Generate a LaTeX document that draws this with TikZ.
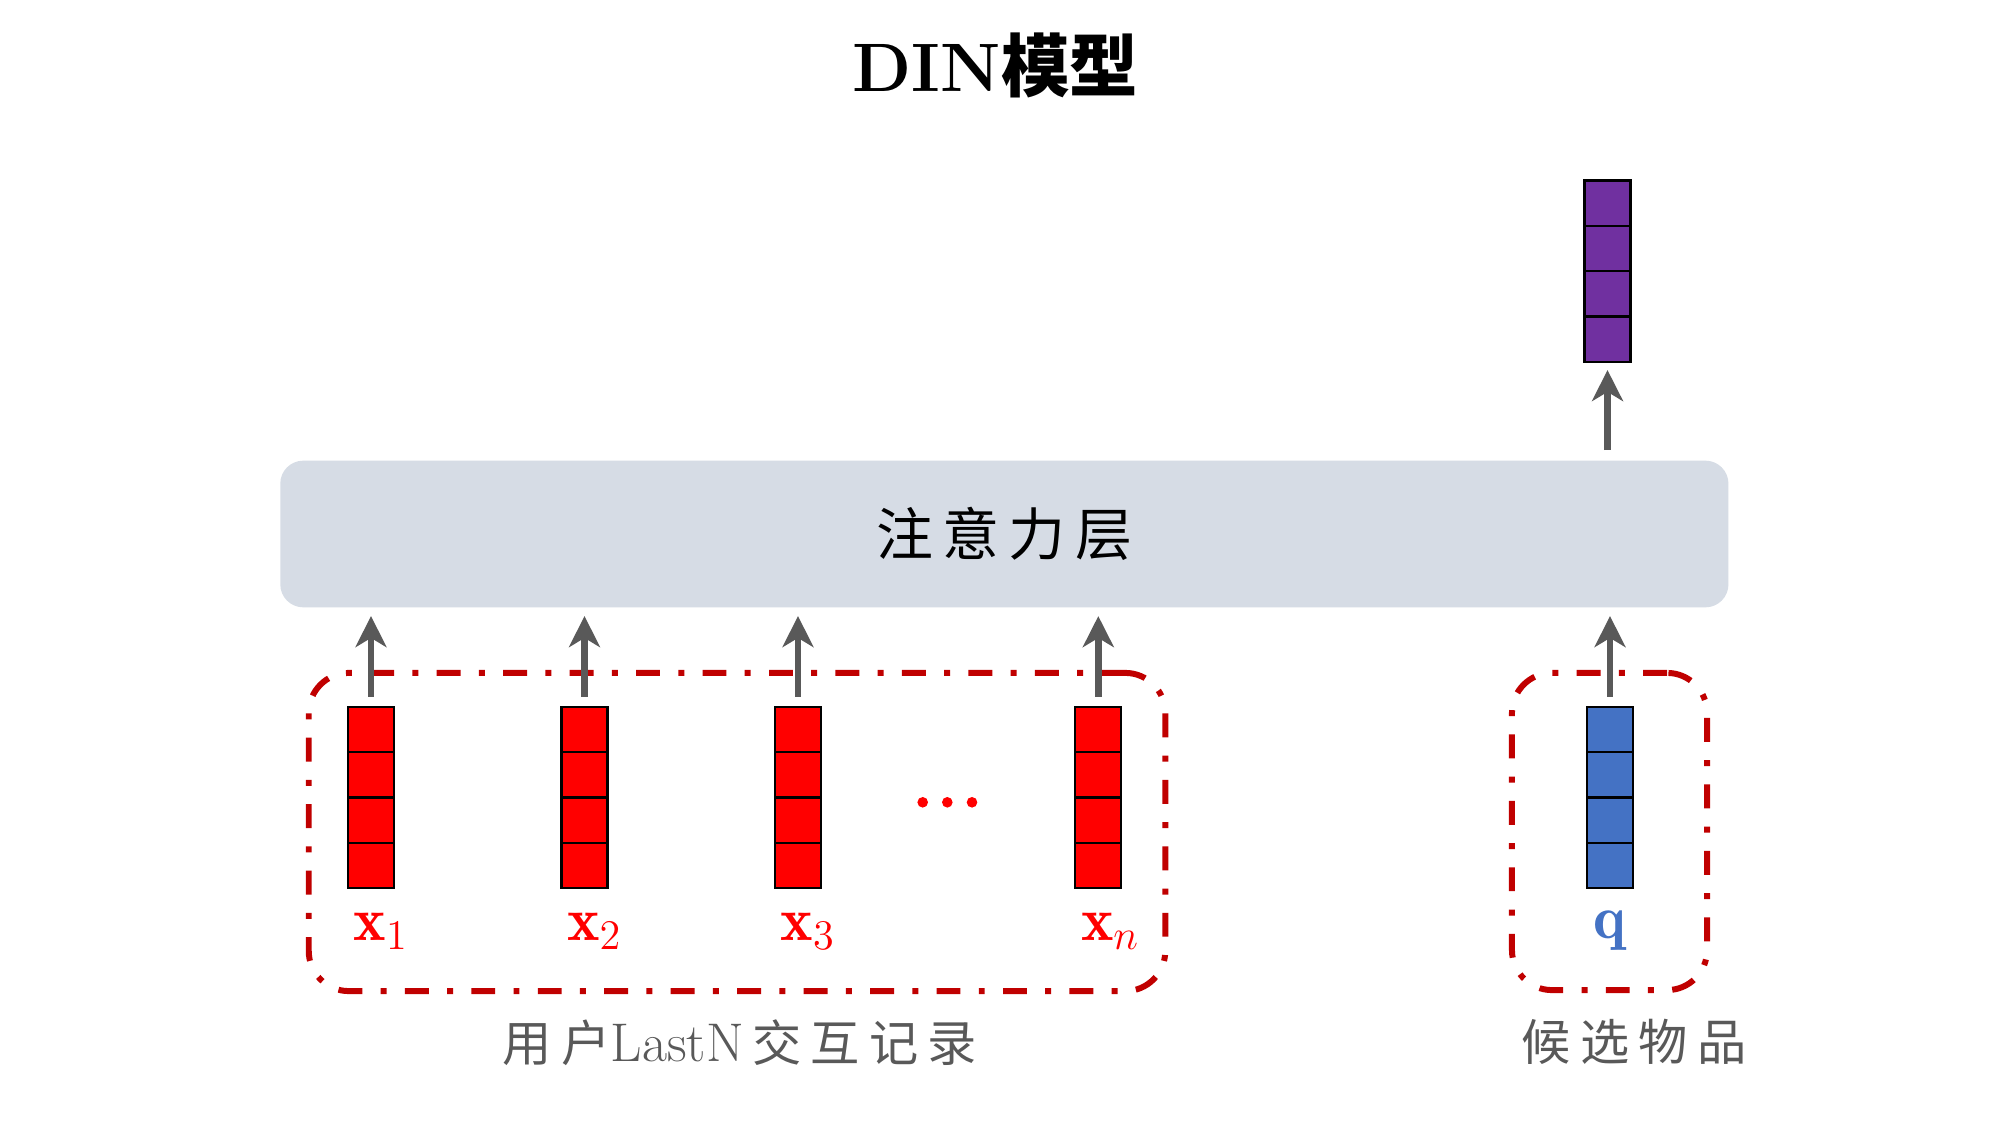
\documentclass[tikz,border=0pt]{standalone}
\usepackage{fontspec}
\newfontfamily\cjk{Noto Sans CJK SC}
\newfontfamily\cjkA{Noto Sans CJK SC}[LetterSpace=16]
\newfontfamily\cjkB{Noto Sans CJK SC}[LetterSpace=19]
\usetikzlibrary{arrows.meta,calc,backgrounds}
\definecolor{attfill}{HTML}{D6DCE5}
\definecolor{arrgray}{HTML}{595959}
\definecolor{dred}{HTML}{C00000}
\definecolor{vred}{HTML}{FF0000}
\definecolor{vpurple}{HTML}{7030A0}
\definecolor{vblue}{HTML}{4472C4}
\definecolor{txtgray}{HTML}{595959}
\newcommand\vcells[1]{%
  \foreach \k in {1,2,3}{%
    \draw[line width=0.65pt] ($(#1.north west)!\k/4!(#1.south west)$) -- ($(#1.north east)!\k/4!(#1.south east)$);
  }%
  \begin{scope}[on background layer]
    \foreach \g in {0,1.5,3,4.5}{%
      \fill[black,opacity=0.15] ($(#1.north west)+({8-\g},{7-\g})$) rectangle ($(#1.south east)+({8+\g},{7+\g})$);
    }%
  \end{scope}%
}
\begin{document}
\begin{tikzpicture}[x=0.01cm,y=-0.01cm,
  vecbox/.style={draw=black, line width=0.65pt, minimum width=0.46cm, minimum height=1.815cm, inner sep=0pt, outer sep=0pt},
  arr/.style={draw=arrgray, line width=1.85pt, -{Stealth[length=8.8pt,width=8.8pt,inset=2.6pt]}, shorten <=2.8pt, shorten >=2.3pt},
  grp/.style={draw=dred, line width=1.7pt, rounded corners=0.4cm, dash pattern=on 6.8pt off 5.2pt on 1.7pt off 5.2pt, inner sep=0pt, outer sep=0pt},
  xlab/.style={text=vred, anchor=base west, inner sep=0pt, font=\fontsize{17.5pt}{20pt}\selectfont},
  botlab/.style={text=txtgray, inner sep=0pt, font=\fontsize{14pt}{16pt}\selectfont}
]
\fill[white] (0,0) rectangle (2000,1125);
\useasboundingbox (0,0) rectangle (2000,1125);

% title
\node[anchor=base, inner sep=0pt] (title) at (995.5,92) {\fontsize{19.5pt}{22pt}\selectfont\bfseries DIN{\cjk 模型}};

% attention layer
\node[fill=attfill, rounded corners=0.23cm, minimum width=14.473cm, minimum height=1.466cm, inner sep=0pt] (att) at (1004.35,534) {\fontsize{16.2pt}{18pt}\selectfont\cjkA 注意力层};

% dashed groups
\node[grp, minimum width=8.56cm, minimum height=3.18cm] (hist) at (737,832) {};
\node[grp, minimum width=1.95cm, minimum height=3.17cm] (cand) at (1609.5,831.5) {};

% vectors
\node[vecbox, fill=vred] (v1) at (371,797.5) {};
\node[vecbox, fill=vred] (v2) at (584.5,797.5) {};
\node[vecbox, fill=vred] (v3) at (798,797.5) {};
\node[vecbox, fill=vred] (vn) at (1098.3,797.5) {};
\node[vecbox, fill=vblue] (vq) at (1610,797.5) {};
\node[vecbox, fill=vpurple] (vo) at (1607.5,271.2) {};
\vcells{v1}\vcells{v2}\vcells{v3}\vcells{vn}\vcells{vq}\vcells{vo}

% dots
\fill[vred] (922.7,802.3) circle[radius=0.053cm];
\fill[vred] (947.3,802.3) circle[radius=0.053cm];
\fill[vred] (972,802.3) circle[radius=0.053cm];

% labels
\node[xlab] (l1) at ($(v1.south west)+(5,52)$) {$\mathbf{x}_1$};
\node[xlab] (l2) at ($(v2.south west)+(5,52)$) {$\mathbf{x}_2$};
\node[xlab] (l3) at ($(v3.south west)+(5,52)$) {$\mathbf{x}_3$};
\node[xlab] (ln) at ($(vn.south west)+(5,52)$) {$\mathbf{x}_n$};
\node[xlab, text=vblue, anchor=base] (lq) at (1609.5,938) {$\mathbf{q}$};

% arrows
\draw[arr] (v1.north) -- (v1.north |- att.south);
\draw[arr] (v2.north) -- (v2.north |- att.south);
\draw[arr] (v3.north) -- (v3.north |- att.south);
\draw[arr] (vn.north) -- (vn.north |- att.south);
\draw[arr] (vq.north) -- (vq.north |- att.south);
\draw[arr] (vo.south |- att.north) -- (vo.south);

% bottom labels
\node[botlab] (hl) at (740,1043) {{\cjkB 用户}{\fontsize{15.5pt}{17pt}\selectfont LastN\hspace{0.15em}}{\cjkB 交互记录}};
\node[botlab] (cl) at (1634,1042) {\cjkB 候选物品};
\end{tikzpicture}
\end{document}
